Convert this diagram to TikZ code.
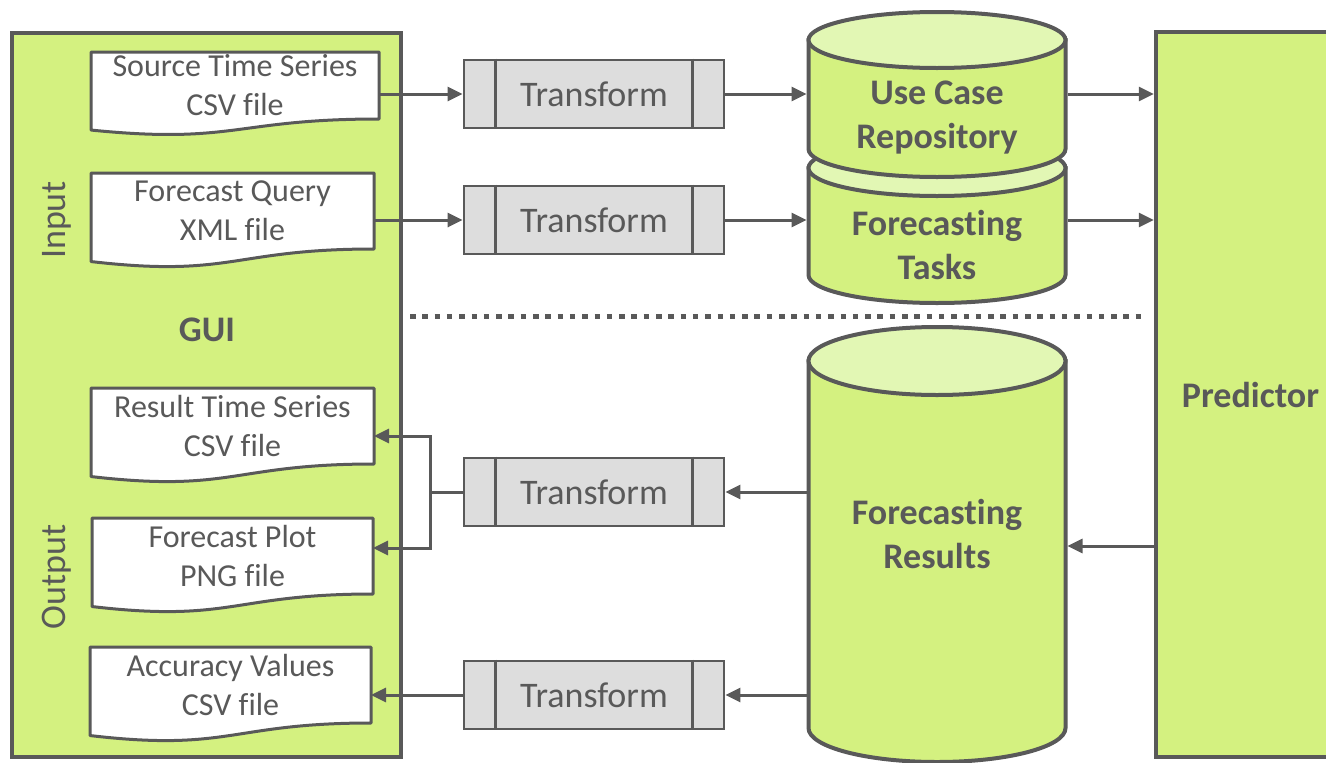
\documentclass[tikz,border=0pt]{standalone}
\usepackage{fontspec}
\setmainfont{Carlito}[Ligatures=NoCommon]
\usepackage{tikz}
\usetikzlibrary{arrows.meta, backgrounds, calc}
\definecolor{guigreen}{RGB}{212,241,128}
\definecolor{lidgreen}{RGB}{226,247,180}
\definecolor{ink}{RGB}{89,89,89}
\definecolor{procgray}{RGB}{221,221,221}
\tikzset{>={Triangle[length=15pt,width=14pt]}}

% paper sheet with wavy lower edge, drawn round a text node
\newcommand{\docshape}[1]{%
  \draw[docline] (#1.north west) -- (#1.north east) -- (#1.south east)
    .. controls (#1.south) and ($(#1.south)!-0.381!(#1.north)$) ..
    ($(#1.south west)!-0.165!(#1.north west)$) -- cycle;}
% database drum: centre x, top y, bottom y, y radius
\newcommand{\drum}[4]{%
  \draw[drumline, fill=guigreen] ({#1-128.5},#2) -- ({#1-128.5},#3)
    arc[start angle=180, end angle=360, x radius=128.5pt, y radius=#4pt]
    -- ({#1+128.5},#2) -- cycle;
  \draw[drumline, fill=lidgreen] (#1,#2) ellipse[x radius=128.5pt, y radius=#4pt];}
% the two side bars of a process box
\newcommand{\procbars}[1]{%
  \draw[procline] ([xshift=33pt]#1.north west) -- ([xshift=33pt]#1.south west)
    ([xshift=-33pt]#1.north east) -- ([xshift=-33pt]#1.south east);}

\begin{document}
\begin{tikzpicture}[x=1pt, y=-1pt,
    panel/.style={draw=ink, line width=4.5pt, fill=guigreen, inner sep=0pt, text=ink,
      font=\fontsize{36}{44}\selectfont\bfseries},
    docnode/.style={minimum width=283pt, minimum height=76pt, inner sep=0pt, outer sep=0pt,
      align=center, text=ink, font=\fontsize{32}{39}\selectfont},
    docline/.style={draw=ink, line width=3pt, fill=white, line join=round},
    tbox/.style={draw=ink, line width=2.8pt, fill=procgray, minimum width=260pt,
      minimum height=68pt, inner sep=0pt, text=ink, font=\fontsize{36}{44}\selectfont},
    procline/.style={draw=ink, line width=2.8pt},
    drumline/.style={draw=ink, line width=4pt},
    drumtext/.style={minimum width=257pt, inner sep=0pt, outer sep=2pt, align=center,
      text=ink, font=\fontsize{36}{44}\selectfont\bfseries},
    flow/.style={draw=ink, line width=3pt, ->},
    sepline/.style={draw=ink, line width=5pt, dash pattern=on 5.5pt off 6.8pt},
    sidelabel/.style={rotate=90, text=ink, font=\fontsize{36}{44}\selectfont}]
    \useasboundingbox (0,0) rectangle (1326,763);

    % files in the GUI
    \node[docnode, minimum width=288pt, minimum height=67pt, anchor=north west] (src) at (91,52) {Source Time Series\\CSV file};
    \node[docnode, anchor=north west] (query) at (91,173) {Forecast Query\\XML file};
    \node[docnode, anchor=north west] (result) at (91,388) {Result Time Series\\CSV file};
    \node[docnode, minimum width=281pt, anchor=north west] (plot) at (92,518) {Forecast Plot\\PNG file};
    \node[docnode, minimum width=281pt, anchor=north west] (accuracy) at (90,647) {Accuracy Values\\CSV file};

    \begin{scope}[on background layer]
      \node[panel, minimum width=389pt, minimum height=724pt] (gui) at (206.5,395) {};
      \docshape{src}
      \docshape{query}
      \docshape{result}
      \docshape{plot}
      \docshape{accuracy}
    \end{scope}

    \node[text=ink, font=\fontsize{36}{44}\selectfont\bfseries] (guilabel) at (207,330) {GUI};
    \node[sidelabel] (inlabel) at (57,220) {Input};
    \node[sidelabel] (outlabel) at (57,577) {Output};

    % transforms
    \node[tbox] (tr1) at (594,94) {Transform};
    \node[tbox] (tr2) at (594,220) {Transform};
    \node[tbox] (tr3) at (594,492) {Transform};
    \node[tbox] (tr4) at (594,695) {Transform};
    \procbars{tr1}
    \procbars{tr2}
    \procbars{tr3}
    \procbars{tr4}

    % databases
    \drum{937}{168}{275}{28}
    \drum{937}{40}{149}{28}
    \drum{937}{361}{728}{34}
    \node[drumtext] (repo) at (937,118) {Use Case\\Repository};
    \node[drumtext] (tasks) at (937,245) {Forecasting\\Tasks};
    \node[drumtext] (results) at (937,534) {Forecasting\\Results};

    % predictor
    \node[panel, minimum width=189pt, minimum height=725pt] (pred) at (1250.5,394.5) {Predictor};

    \draw[sepline] (410,316) -- (1147,316);

    % input side
    \draw[flow] (src.east |- tr1.west) -- (tr1.west);
    \draw[flow] (tr1.east) -- (repo.west |- tr1.east);
    \draw[flow] (query.east |- tr2.west) -- (tr2.west);
    \draw[flow] (tr2.east) -- (tasks.west |- tr2.east);
    \draw[flow] (repo.east |- tr1.east) -- (pred.west |- tr1.east);
    \draw[flow] (tasks.east |- tr2.east) -- (pred.west |- tr2.east);

    % output side
    \coordinate (back) at ([yshift=-12pt]results.east);
    \draw[flow] (back -| pred.west) -- (back);
    \draw[flow] (results.west |- tr3.east) -- (tr3.east);
    \draw[flow] (results.west |- tr4.east) -- (tr4.east);
    \draw[flow] (tr4.west) -- (accuracy.east |- tr4.west);
    \coordinate (fork) at ([xshift=-32pt]tr3.west);
    \draw[flow] (tr3.west) -- (fork) |- ([yshift=-10pt]result.east);
    \draw[flow] (fork) |- ([yshift=8pt]plot.east);
\end{tikzpicture}
\end{document}
